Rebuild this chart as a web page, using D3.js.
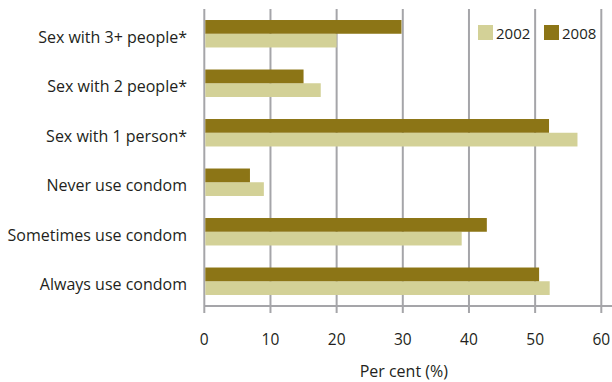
<!DOCTYPE html>
<html><head><meta charset="utf-8">
<script src="https://cdn.jsdelivr.net/npm/d3@7"></script>
<style>body{margin:0;background:#fff}svg{display:block}text{font-family:"Open Sans",sans-serif;fill:#231f20}</style>
</head><body><div id="chart"></div>
<script>
const categories = ["Sex with 3+ people*","Sex with 2 people*","Sex with 1 person*","Never use condom","Sometimes use condom","Always use condom"];
const series = ["2002","2008"];
const values2002 = [20, 17.6, 56.4, 9.0, 38.9, 52.2];
const values2008 = [29.8, 15, 52.1, 6.9, 42.7, 50.6];
const xTicks = [0,10,20,30,40,50,60];
const xTitle = "Per cent (%)";
const colors = {"2002":"#d3d197","2008":"#8c7516"};

const W=612,H=382;
const svg=d3.select("#chart").append("svg").attr("width",W).attr("height",H);
const x=d3.scaleLinear().domain([0,60]).range([204.3,601.3]);
const y=d3.scaleBand().domain(categories).range([9,306]).paddingInner(0.445).paddingOuter(0.2225);
const sub=d3.scaleBand().domain(["2008","2002"]).range([0,y.bandwidth()]);
const grid="#a5a5a9";

// gridlines
svg.append("g").selectAll("line").data(xTicks).join("line")
  .attr("x1",d=>x(d)).attr("x2",d=>x(d)).attr("y1",9).attr("y2",313)
  .attr("stroke",grid).attr("stroke-width",2);
// bottom axis line
svg.append("line").attr("x1",x(0)).attr("x2",612).attr("y1",306).attr("y2",306).attr("stroke",grid).attr("stroke-width",2);

// bars
const data=categories.map((c,i)=>({c,"2002":values2002[i],"2008":values2008[i]}));
const g=svg.append("g");
data.forEach(d=>{
  series.forEach(s=>{
    g.append("rect").attr("x",x(0)+1).attr("y",y(d.c)+sub(s))
     .attr("width",x(d[s])-x(0)-1).attr("height",sub.bandwidth())
     .attr("fill",colors[s]);
  });
});

// x tick labels
svg.append("g").selectAll("text").data(xTicks).join("text")
  .attr("x",d=>x(d)).attr("y",344.5).attr("text-anchor","middle")
  .style("font-size","15.5px").text(d=>d);
svg.append("text").attr("x",x(30)+1).attr("y",377).attr("text-anchor","middle")
  .style("font-size","16px").text(xTitle);

// category labels
svg.append("g").selectAll("text").data(categories).join("text")
  .attr("x",187).attr("y",d=>y(d)+y.bandwidth()/2+9).attr("text-anchor","end")
  .style("font-size","16px").text(d=>d);

// legend
const leg=svg.append("g");
series.forEach((s,i)=>{
  const lx=478+i*66;
  leg.append("rect").attr("x",lx).attr("y",25).attr("width",15).attr("height",15).attr("fill",colors[s]);
  leg.append("text").attr("x",lx+18).attr("y",38.5).style("font-size","15px").text(s);
});
</script></body></html>
